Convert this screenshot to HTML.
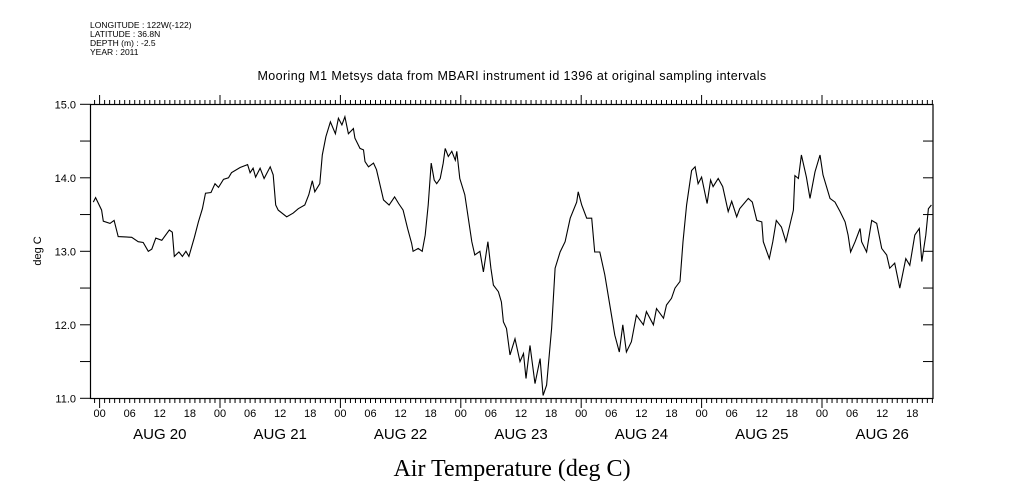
<!DOCTYPE html>
<html><head><meta charset="utf-8"><style>
html,body{margin:0;padding:0;background:#fff;}
svg{display:block;font-family:"Liberation Sans",sans-serif;}
</style></head><body>
<svg id="chart" width="1009" height="504" viewBox="0 0 1009 504">
<g font-size="8.5" fill="#000">
<text x="90" y="28">LONGITUDE : 122W(-122)</text>
<text x="90" y="37">LATITUDE : 36.8N</text>
<text x="90" y="46">DEPTH (m) : -2.5</text>
<text x="90" y="60" dy="-5">YEAR : 2011</text>
</g>
<text x="512" y="80" text-anchor="middle" font-size="12.5" letter-spacing="0.4">Mooring M1 Metsys data from MBARI instrument id 1396 at original sampling intervals</text>
<text transform="translate(41,251) rotate(-90)" text-anchor="middle" font-size="11">deg C</text>
<text x="512" y="476" text-anchor="middle" font-family="Liberation Serif, serif" font-size="24">Air Temperature (deg C)</text>
<g id="axes"></g>
<path id="series" fill="none" stroke="#000" stroke-width="1.1"/>
<rect x="90.5" y="104.5" width="842.5" height="294" fill="none" stroke="#000" stroke-width="1.2"/>
</svg>
<script>
const hours = [-1.25,-0.8,0.4,0.73,2.07,2.9,3.7,6.4,7.7,8.7,9.7,10.4,11.2,12.4,13.9,14.5,14.9,15.8,16.5,17.2,17.8,18.9,19.7,20.5,21.1,22.2,23.0,23.7,24.7,25.7,26.3,28.0,29.5,30.0,30.6,31.1,32.0,32.8,34.0,34.6,35.1,35.6,37.3,38.6,39.6,40.9,41.7,42.4,42.9,43.9,44.4,45.1,46.0,47.0,47.6,48.3,48.9,49.6,50.6,50.9,51.9,52.6,52.9,53.6,54.6,55.2,56.6,57.7,58.8,59.6,60.5,61.4,62.2,62.5,63.5,64.3,64.9,65.5,66.1,66.7,67.2,67.9,68.5,68.9,69.5,70.2,70.9,71.2,71.8,72.8,73.5,74.2,74.8,75.8,76.5,77.4,78.0,78.5,79.5,80.1,80.5,81.1,81.8,82.8,83.8,84.5,85.0,85.8,86.8,87.8,88.4,89.1,90.1,90.8,91.8,92.8,93.8,95.1,95.4,96.1,97.1,98.1,98.7,99.7,100.7,101.7,102.7,103.6,104.3,105.0,106.0,107.0,108.4,109.0,110.4,111.0,112.4,113.0,114.0,114.7,115.7,116.3,117.0,118.0,118.7,119.3,120.0,121.1,121.8,122.3,123.3,124.2,125.3,126.0,127.0,127.6,129.3,130.1,131.0,132.0,132.3,133.5,134.2,134.9,135.9,136.8,138.3,138.6,139.3,139.9,140.9,141.6,142.6,143.6,144.2,145.6,146.6,147.6,148.6,149.2,149.7,150.6,151.6,151.9,152.9,153.9,154.9,155.9,156.9,157.5,158.5,159.5,160.7,161.5,162.5,163.4,163.9,164.7,165.2,165.8];
const temps = [13.67,13.73,13.56,13.41,13.38,13.42,13.2,13.19,13.13,13.12,13.0,13.03,13.18,13.15,13.29,13.26,12.93,12.99,12.93,13.0,12.93,13.19,13.4,13.58,13.79,13.8,13.92,13.87,13.98,14.0,14.07,14.14,14.18,14.07,14.13,14.01,14.13,13.99,14.15,14.04,13.63,13.56,13.47,13.52,13.58,13.63,13.77,13.96,13.81,13.92,14.31,14.56,14.76,14.6,14.81,14.72,14.83,14.6,14.67,14.54,14.4,14.38,14.22,14.15,14.2,14.11,13.7,13.63,13.74,13.65,13.56,13.31,13.11,13.0,13.04,13.0,13.22,13.63,14.2,13.97,13.92,13.99,14.2,14.4,14.29,14.36,14.24,14.36,13.99,13.77,13.45,13.13,12.95,13.0,12.72,13.13,12.77,12.54,12.45,12.31,12.04,11.95,11.59,11.81,11.5,11.61,11.27,11.72,11.2,11.54,11.04,11.18,11.95,12.77,12.99,13.13,13.45,13.67,13.81,13.63,13.45,13.45,12.99,12.99,12.68,12.27,11.86,11.63,12.0,11.63,11.77,12.13,12.0,12.18,12.0,12.22,12.09,12.27,12.36,12.5,12.59,13.13,13.63,14.1,14.15,13.92,14.01,13.65,13.97,13.88,13.99,13.88,13.54,13.68,13.47,13.58,13.72,13.67,13.42,13.4,13.13,12.9,13.13,13.42,13.33,13.13,13.56,14.03,13.99,14.31,14.01,13.72,14.08,14.31,14.04,13.72,13.67,13.54,13.4,13.22,12.99,13.13,13.31,13.13,12.99,13.42,13.38,13.04,12.95,12.77,12.84,12.5,12.9,12.81,13.22,13.31,12.86,13.22,13.58,13.63];
const yTickLabels = ["11.0","12.0","13.0","14.0","15.0"];
const yTickValues = [11,12,13,14,15];
const dayLabels = ["AUG 20","AUG 21","AUG 22","AUG 23","AUG 24","AUG 25","AUG 26"];
const hourLabels = ["00","06","12","18"];

const X0=99.6, PXH=120.4/24, LEFT=90.5, RIGHT=933, TOP=104.3, BOT=398.3;
function xs(h){return X0+h*PXH;}
function ys(v){return BOT-(v-11)*(BOT-TOP)/4;}
const NS="http://www.w3.org/2000/svg";
const axes=document.getElementById('axes');
function line(x1,y1,x2,y2,name){
  const l=document.createElementNS(NS,'line');
  l.setAttribute('x1',x1);l.setAttribute('y1',y1);l.setAttribute('x2',x2);l.setAttribute('y2',y2);
  l.setAttribute('stroke','#000');l.setAttribute('stroke-width','1');
  
  
  axes.appendChild(l);
}
function text(x,y,s,size,name,anchor){
  const t=document.createElementNS(NS,'text');
  t.setAttribute('x',x);t.setAttribute('y',y);t.setAttribute('font-size',size);
  t.setAttribute('text-anchor',anchor||'middle');t.textContent=s;
  
  
  axes.appendChild(t);
}
// hourly ticks
for(let h=-1;h<=166;h++){
  const x=xs(h); if(x<LEFT||x>RIGHT) continue;
  const major=(h%24===0);
  line(x,TOP,x,major?95:100,'top-tick');
  line(x,BOT,x,major?408:403,'bottom-tick');
}
for(let d=0;d<dayLabels.length;d++){
  for(let k=0;k<hourLabels.length;k++){
    const h=d*24+k*6; const x=xs(h);
    if(x>RIGHT) continue;
    text(x,417,hourLabels[k],11,'x-tick-label');
  }
  text(xs(d*24+12),439,dayLabels[d],15,'x-day-label');
}
for(let i=0;i<yTickValues.length;i++){
  const y=ys(yTickValues[i]);
  line(80,y,LEFT,y,'y-tick');
  text(76,y+4,yTickLabels[i],11,'y-tick-label','end');
}
for(let v=11.5;v<15;v+=0.5){
  const y=ys(v);
  if(v%1!==0) line(80,y,LEFT,y,'y-minor-tick');
  line(RIGHT-10,y,RIGHT,y,'right-tick');
}
let d='';
for(let i=0;i<hours.length;i++){
  d+=(i?'L':'M')+xs(hours[i]).toFixed(1)+','+ys(temps[i]).toFixed(1);
}
document.getElementById('series').setAttribute('d',d);
</script>
</body></html>
